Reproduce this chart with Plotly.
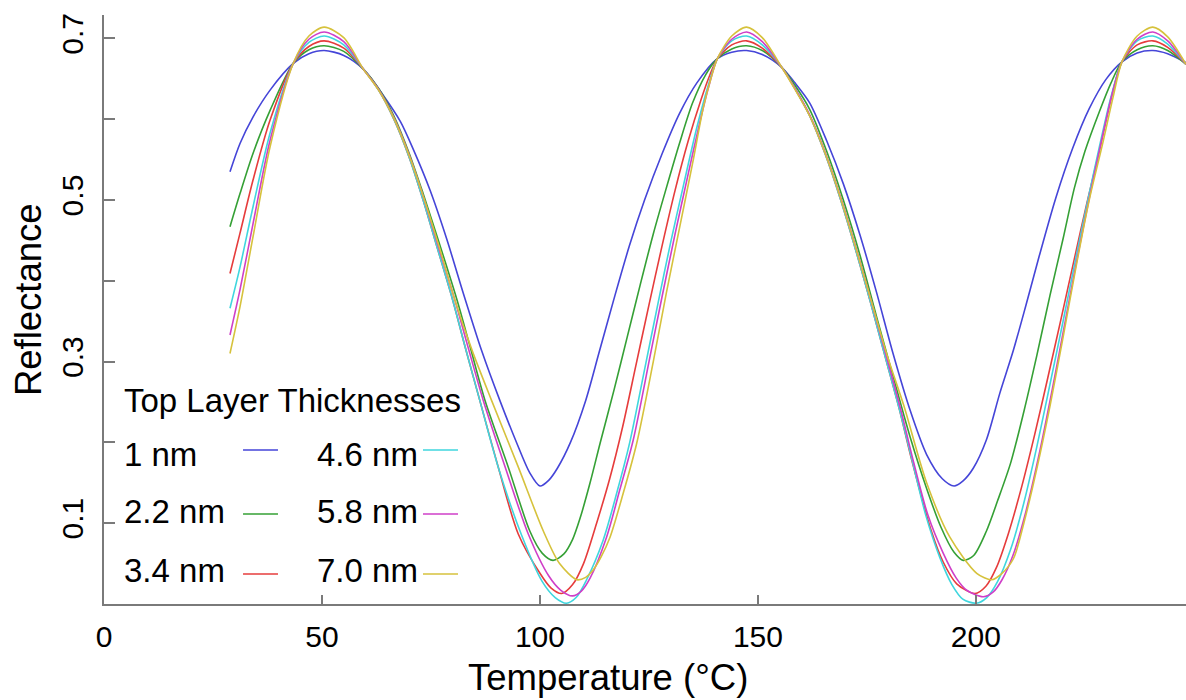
import plotly.graph_objects as go

# ---------------- data ----------------
SERIES_NAMES = ["1 nm", "2.2 nm", "3.4 nm", "4.6 nm", "5.8 nm", "7.0 nm"]

TEMP_1NM = [28.9, 31.2, 34.2, 38.1, 43.4, 47, 50.5, 55, 59.5, 64, 68, 71, 74.8, 78.6,
            82.4, 86.6, 90.8, 94.7, 97.7, 100, 102, 104, 107, 110.5, 113.5, 117, 120.5, 124, 128,
            132, 136, 140.7, 144, 147.4, 151, 155.5, 158.5, 161.9, 165.8, 169.6, 173.4, 177.2,
            181, 184.9, 188.7, 192.3, 195, 197, 199.4, 202.4, 205.5, 208.6, 211.5, 214.5, 218.3,
            222.2, 226, 229.8, 233.5, 237, 240.6, 244, 248.2]
REFL_1NM = [0.535, 0.570, 0.603, 0.636, 0.669, 0.681, 0.685, 0.679, 0.662, 0.630, 0.597, 0.562,
            0.512, 0.452, 0.385, 0.314, 0.252, 0.199, 0.162, 0.146, 0.153, 0.168, 0.200, 0.252,
            0.310, 0.378, 0.443, 0.500, 0.557, 0.607, 0.645, 0.675, 0.683, 0.685, 0.680, 0.664,
            0.645, 0.620, 0.573, 0.520, 0.457, 0.386, 0.310, 0.240, 0.185, 0.155, 0.146, 0.152,
            0.168, 0.203, 0.261, 0.314, 0.370, 0.430, 0.502, 0.564, 0.613, 0.649, 0.671, 0.682,
            0.685, 0.681, 0.670]

TEMP_2NM = [28.9, 31.2, 34.2, 38.1, 43.4, 47, 50.5, 55, 59.5, 63, 66.5, 70, 73.2, 77, 81, 84,
            87.4, 92.7, 97.7, 100.5, 103, 105.5, 107.5, 109.2, 111.5, 113.8, 117, 120, 123, 126,
            129, 132, 135, 138, 140.7, 144, 147.4, 151, 155.5, 158.5, 161.9, 165.8, 169.6, 173.4,
            177.2, 181, 184.9, 188.7, 192, 195, 197.1, 199.5, 202.4, 205, 208, 211, 214, 217, 220,
            222.6, 225, 228.3, 231, 233.5, 237, 240.6, 244, 248.2]
REFL_2NM = [0.467, 0.508, 0.558, 0.611, 0.669, 0.686, 0.691, 0.684, 0.662, 0.638, 0.604, 0.558,
            0.508, 0.445, 0.376, 0.318, 0.252, 0.170, 0.090, 0.063, 0.054, 0.062, 0.080, 0.106,
            0.150, 0.199, 0.265, 0.330, 0.395, 0.458, 0.515, 0.570, 0.620, 0.655, 0.675, 0.687,
            0.691, 0.685, 0.664, 0.642, 0.612, 0.560, 0.500, 0.432, 0.356, 0.282, 0.207, 0.143,
            0.095, 0.064, 0.054, 0.060, 0.090, 0.128, 0.175, 0.238, 0.308, 0.382, 0.452, 0.515,
            0.560, 0.609, 0.645, 0.671, 0.686, 0.691, 0.685, 0.668]

TEMP_3NM = [28.9, 31.2, 34.2, 38.1, 43.4, 47, 50.5, 55, 59.5, 63, 66.5, 70, 73.2, 76.5, 80, 83,
            86.2, 90.4, 95, 100, 102.5, 105, 107.5, 110, 113, 116, 119, 122, 125, 128, 131, 134,
            137, 139, 140.7, 144, 147.4, 151, 155.5, 158.5, 161.9, 165.5, 169, 172.5, 176, 179.5,
            182.5, 185.2, 189.8, 192.5, 195.6, 199.8, 202.3, 204.7, 207.5, 210.5, 213.5, 216.5,
            219.5, 222.5, 225.5, 228.5, 231, 233.5, 237, 240.6, 244, 248.2]
REFL_3NM = [0.409, 0.459, 0.525, 0.599, 0.669, 0.690, 0.697, 0.688, 0.662, 0.636, 0.600, 0.553,
            0.500, 0.440, 0.376, 0.315, 0.252, 0.170, 0.087, 0.038, 0.020, 0.013, 0.024, 0.050,
            0.100, 0.155, 0.220, 0.295, 0.370, 0.443, 0.512, 0.573, 0.625, 0.655, 0.675, 0.692,
            0.697, 0.688, 0.664, 0.638, 0.604, 0.556, 0.500, 0.437, 0.370, 0.300, 0.240, 0.180,
            0.090, 0.052, 0.025, 0.013, 0.022, 0.045, 0.088, 0.145, 0.210, 0.280, 0.352, 0.425,
            0.497, 0.565, 0.625, 0.671, 0.692, 0.697, 0.689, 0.668]

TEMP_4NM = [28.9, 31.2, 34.2, 38.1, 43.4, 47, 50.5, 55, 59.5, 63, 66.5, 70, 73.2, 76.5, 80, 83,
            86.2, 90.4, 95.8, 100.5, 103.5, 106.1, 108.3, 110.7, 114.5, 117.6, 120.6, 124, 127,
            130, 133, 136, 138.5, 140.7, 144, 147.4, 151, 155.5, 158.5, 161.9, 165.5, 169, 172.5,
            176, 179.5, 182.5, 185.5, 188.5, 191.7, 194.5, 197, 200.1, 202.5, 205, 208, 211, 214,
            217, 220, 223, 226, 228.5, 231, 233.5, 237, 240.6, 244, 248.2]
REFL_4NM = [0.366, 0.417, 0.492, 0.583, 0.669, 0.695, 0.703, 0.692, 0.662, 0.636, 0.600, 0.553,
            0.500, 0.440, 0.376, 0.315, 0.252, 0.170, 0.085, 0.028, 0.008, 0.001, 0.008, 0.030,
            0.079, 0.137, 0.200, 0.290, 0.370, 0.448, 0.520, 0.590, 0.640, 0.675, 0.697, 0.703,
            0.692, 0.664, 0.638, 0.604, 0.556, 0.500, 0.437, 0.370, 0.300, 0.240, 0.175, 0.110,
            0.058, 0.024, 0.006, 0.001, 0.008, 0.028, 0.068, 0.125, 0.195, 0.272, 0.350, 0.430,
            0.508, 0.570, 0.628, 0.671, 0.697, 0.703, 0.693, 0.668]

TEMP_5NM = [28.9, 31.2, 34.2, 38.1, 43.4, 47, 50.5, 55, 59.5, 63, 66.5, 70, 73.2, 76.5, 80.5,
            83.5, 87, 92, 97.3, 102, 104.8, 107.5, 109.5, 111.5, 115.3, 118.3, 121.4, 125.2, 128,
            131, 134, 136.5, 138.7, 140.7, 144, 147.4, 151, 155.5, 158.5, 161.9, 165.5, 169,
            172.5, 176, 179.8, 182.8, 185.6, 189, 192.5, 195.5, 197.9, 201.7, 204, 206, 208.5,
            211.5, 214.5, 217.5, 220.5, 223.5, 226.5, 229, 231.2, 233.5, 237, 240.6, 244, 248.2]
REFL_5NM = [0.333, 0.389, 0.471, 0.574, 0.669, 0.699, 0.708, 0.696, 0.662, 0.637, 0.602, 0.556,
            0.505, 0.446, 0.376, 0.318, 0.252, 0.170, 0.087, 0.035, 0.017, 0.010, 0.016, 0.032,
            0.083, 0.141, 0.203, 0.305, 0.380, 0.458, 0.532, 0.592, 0.640, 0.675, 0.699, 0.708,
            0.696, 0.664, 0.638, 0.605, 0.558, 0.503, 0.441, 0.375, 0.300, 0.240, 0.178, 0.110,
            0.063, 0.032, 0.017, 0.009, 0.015, 0.030, 0.060, 0.115, 0.185, 0.265, 0.350, 0.435,
            0.515, 0.578, 0.630, 0.671, 0.699, 0.708, 0.697, 0.668]

TEMP_7NM = [28.9, 31.2, 34.2, 38.1, 43.4, 47, 50.5, 55, 59.5, 63, 66.5, 70, 73.2, 77, 80.5, 84.5,
            88.9, 95, 100.8, 104.5, 108.5, 110.5, 112.2, 114, 116.1, 119.1, 122.2, 126, 129, 132,
            135, 137.5, 139.2, 140.7, 144, 147.4, 151, 155.5, 158.5, 161.9, 165.5, 169, 172.5,
            176, 179.8, 183.5, 188.7, 194, 200.2, 203.6, 206, 208.6, 211, 214, 217, 220,
            223, 226, 229, 231.5, 233.5, 237, 240.6, 244, 248.2]
REFL_7NM = [0.310, 0.368, 0.455, 0.566, 0.669, 0.703, 0.714, 0.701, 0.662, 0.636, 0.601, 0.555,
            0.505, 0.440, 0.376, 0.313, 0.252, 0.170, 0.090, 0.050, 0.030, 0.033, 0.042, 0.058,
            0.083, 0.137, 0.199, 0.300, 0.385, 0.465, 0.545, 0.615, 0.650, 0.675, 0.703, 0.714,
            0.701, 0.664, 0.637, 0.604, 0.557, 0.502, 0.440, 0.375, 0.305, 0.245, 0.150, 0.083,
            0.038, 0.030, 0.038, 0.056, 0.100, 0.168, 0.245, 0.330, 0.418, 0.500, 0.568, 0.628,
            0.671, 0.703, 0.714, 0.702, 0.668]

X_TICKS = [0, 50, 100, 150, 200]
Y_TICKS = [0.1, 0.2, 0.3, 0.4, 0.5, 0.6, 0.7]
Y_TICK_TEXT = ["0.1", "", "0.3", "", "0.5", "", "0.7"]

# ---------------- styles ----------------
COLORS = ["#4545d8", "#35a035", "#e63c3c", "#3fd6de", "#cf3fc8", "#d6c23c"]
FONT = "Liberation Sans, Arial, Helvetica, sans-serif"
AXIS_GRAY = "#7a7a7a"

TEMPS = [TEMP_1NM, TEMP_2NM, TEMP_3NM, TEMP_4NM, TEMP_5NM, TEMP_7NM]
REFLS = [REFL_1NM, REFL_2NM, REFL_3NM, REFL_4NM, REFL_5NM, REFL_7NM]

fig = go.Figure()
for name, xs, ys, col in zip(SERIES_NAMES, TEMPS, REFLS, COLORS):
    assert len(xs) == len(ys), name
    fig.add_trace(go.Scatter(
        x=xs, y=ys, mode="lines", name=name, showlegend=False,
        line=dict(color=col, width=1.6, shape="spline", smoothing=0.8),
        hoverinfo="x+y+name",
    ))

# ---------------- custom legend (text left, line sample right) ----------------
annotations = []
shapes = []
LEG_FONT = dict(size=33, family=FONT, color="black")
annotations.append(dict(text="Top Layer Thicknesses", x=0.0166, y=0.3447, xref="paper", yref="paper",
                        xanchor="left", yanchor="middle", showarrow=False, font=LEG_FONT))
# column layout: (text x, line x0, line x1) ; rows y
cols = [(0.0166, 0.1285, 0.1608), (0.1950, 0.2948, 0.3272)]
rows = [0.2530, 0.1562, 0.0577]
row_lines = [0.2615, 0.1528, 0.0509]
order = [(0, 0, 0), (1, 0, 1), (2, 0, 2), (3, 1, 0), (4, 1, 1), (5, 1, 2)]
for idx, c, r in order:
    tx, lx0, lx1 = cols[c]
    annotations.append(dict(text=SERIES_NAMES[idx], x=tx, y=rows[r], xref="paper", yref="paper",
                            xanchor="left", yanchor="middle", showarrow=False, font=LEG_FONT))
    shapes.append(dict(type="line", xref="paper", yref="paper", x0=lx0, x1=lx1,
                       y0=row_lines[r], y1=row_lines[r], line=dict(color=COLORS[idx], width=1.6)))

# axis titles
annotations.append(dict(text="Temperature (°C)", x=0.4658, y=-0.124, xref="paper", yref="paper",
                        xanchor="center", yanchor="middle", showarrow=False,
                        font=dict(size=36.5, family=FONT, color="black")))
annotations.append(dict(text="Reflectance", x=-0.0702, y=0.516, xref="paper", yref="paper",
                        xanchor="center", yanchor="middle", showarrow=False, textangle=-90,
                        font=dict(size=36.5, family=FONT, color="black")))

fig.update_layout(
    width=1186, height=700,
    margin=dict(l=104, r=0, t=15, b=96, pad=0),
    paper_bgcolor="white", plot_bgcolor="white",
    font=dict(family=FONT, color="black"),
    showlegend=False,
    annotations=annotations,
    shapes=shapes,
    xaxis=dict(range=[0, 248.2], showgrid=False, zeroline=False, showline=True,
               linecolor=AXIS_GRAY, linewidth=2, ticks="inside", ticklen=9, tickwidth=2,
               tickcolor=AXIS_GRAY, tickvals=X_TICKS, ticktext=[str(v) for v in X_TICKS],
               tickfont=dict(size=30, family=FONT, color="black"), ticklabelstandoff=5),
    yaxis=dict(range=[0, 0.729], showgrid=False, zeroline=False, showline=True,
               linecolor=AXIS_GRAY, linewidth=2, ticks="inside", ticklen=11, tickwidth=2,
               tickcolor=AXIS_GRAY, tickvals=Y_TICKS, ticktext=Y_TICK_TEXT, tickangle=-90,
               tickfont=dict(size=30, family=FONT, color="black"), ticklabelstandoff=7),
)

fig.write_html("out.html")
